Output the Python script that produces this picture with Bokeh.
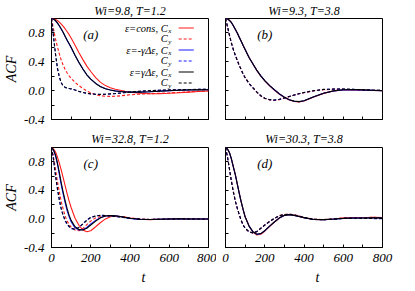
from bokeh.plotting import figure
from bokeh.layouts import column, row
from bokeh.models import Range1d, FixedTicker, Title, Label, Arrow, PrintfTickFormatter
from bokeh.embed import file_html
from bokeh.resources import INLINE

# ---------------- data ----------------
t = [0, 10, 20, 30, 40, 50, 60, 70, 80, 90, 100, 120, 140, 160, 180, 200,
     225, 250, 275, 300, 325, 350, 375, 400, 450, 500, 550, 600, 650, 700, 750, 800]

titles = ["Wi=9.8, T=1.2", "Wi=9.3, T=3.8", "Wi=32.8, T=1.2", "Wi=30.3, T=3.8"]
panel_tags = ["(a)", "(b)", "(c)", "(d)"]
x_ticks = [0, 200, 400, 600, 800]
x_minor = [100, 300, 500, 700]
y_ticks = [-0.4, 0.0, 0.4, 0.8]
y_minor = [-0.2, 0.2, 0.6]
legend_main = ["ε=cons, C", "C", "ε=-γΔε, C", "C", "ε=γΔε, C", "C"]
legend_sub = ["x", "y", "x", "y", "x", "y"]

# panel (a)
a_cons_cx = [1.0, 0.997, 0.988, 0.972, 0.95, 0.923, 0.89, 0.855, 0.817, 0.776, 0.73, 0.63, 0.525, 0.43, 0.34, 0.265,
             0.18, 0.115, 0.07, 0.04, 0.02, 0.005, -0.01, -0.022, -0.037, -0.043, -0.042, -0.037, -0.03, -0.021, -0.012, -0.005]
a_cons_cy = [1.0, 0.86, 0.72, 0.61, 0.51, 0.42, 0.35, 0.29, 0.245, 0.205, 0.17, 0.115, 0.07, 0.03, -0.005, -0.03,
             -0.055, -0.07, -0.078, -0.08, -0.078, -0.072, -0.065, -0.058, -0.048, -0.042, -0.037, -0.032, -0.025, -0.017, -0.009, -0.003]
a_neg_cx = [1.0, 0.991, 0.97, 0.937, 0.896, 0.851, 0.801, 0.748, 0.696, 0.646, 0.596, 0.487, 0.388, 0.299, 0.22, 0.16,
            0.101, 0.056, 0.026, 0.009, -0.003, -0.011, -0.016, -0.019, -0.02, -0.015, -0.007, 0.0, 0.006, 0.01, 0.012, 0.013]
a_neg_cy = [1.0, 0.75, 0.51, 0.31, 0.185, 0.107, 0.063, 0.044, 0.035, 0.029, 0.024, 0.009, -0.011, -0.026, -0.038, -0.046,
            -0.051, -0.053, -0.051, -0.046, -0.041, -0.034, -0.027, -0.019, -0.009, -0.001, 0.005, 0.009, 0.012, 0.015, 0.017, 0.019]
a_pos_cx = [1.0, 0.992, 0.972, 0.94, 0.90, 0.855, 0.805, 0.752, 0.70, 0.65, 0.60, 0.49, 0.39, 0.30, 0.22, 0.16,
            0.10, 0.055, 0.025, 0.008, -0.004, -0.012, -0.017, -0.02, -0.021, -0.016, -0.008, -0.001, 0.005, 0.009, 0.011, 0.012]
a_pos_cy = [1.0, 0.76, 0.52, 0.32, 0.19, 0.11, 0.065, 0.045, 0.036, 0.03, 0.025, 0.01, -0.01, -0.025, -0.037, -0.045,
            -0.05, -0.052, -0.05, -0.045, -0.04, -0.033, -0.026, -0.018, -0.008, 0.0, 0.006, 0.01, 0.013, 0.016, 0.018, 0.02]

# panel (b)
b_cons_cx = [1.0, 0.993, 0.975, 0.945, 0.90, 0.85, 0.80, 0.74, 0.685, 0.625, 0.57, 0.46, 0.368, 0.278, 0.202, 0.137,
             0.066, 0.005, -0.05, -0.095, -0.13, -0.15, -0.156, -0.143, -0.088, -0.038, -0.006, 0.008, 0.01, 0.006, 0.002, -0.002]
b_cons_cy = [1.0, 0.89, 0.77, 0.66, 0.57, 0.49, 0.42, 0.35, 0.29, 0.23, 0.18, 0.10, 0.038, -0.023, -0.074, -0.11,
             -0.13, -0.137, -0.126, -0.104, -0.083, -0.062, -0.044, -0.028, -0.004, 0.013, 0.018, 0.018, 0.014, 0.009, 0.004, 0.0]
b_neg_cx = [1.0, 0.993, 0.974, 0.944, 0.899, 0.849, 0.799, 0.739, 0.684, 0.624, 0.569, 0.459, 0.369, 0.279, 0.204, 0.139,
            0.069, 0.009, -0.046, -0.091, -0.126, -0.146, -0.153, -0.141, -0.086, -0.036, -0.004, 0.011, 0.014, 0.009, 0.004, 0.0]
b_neg_cy = [1.0, 0.889, 0.769, 0.659, 0.569, 0.489, 0.419, 0.349, 0.289, 0.229, 0.179, 0.099, 0.039, -0.021, -0.071, -0.106,
            -0.126, -0.131, -0.121, -0.101, -0.081, -0.061, -0.043, -0.026, -0.001, 0.016, 0.021, 0.021, 0.017, 0.011, 0.006, 0.002]
b_pos_cx = [1.0, 0.993, 0.975, 0.945, 0.90, 0.85, 0.80, 0.74, 0.685, 0.625, 0.57, 0.46, 0.37, 0.28, 0.205, 0.14,
            0.07, 0.01, -0.045, -0.09, -0.125, -0.145, -0.152, -0.14, -0.085, -0.035, -0.003, 0.012, 0.015, 0.01, 0.005, 0.0]
b_pos_cy = [1.0, 0.89, 0.77, 0.66, 0.57, 0.49, 0.42, 0.35, 0.29, 0.23, 0.18, 0.10, 0.04, -0.02, -0.07, -0.105,
            -0.125, -0.13, -0.12, -0.10, -0.08, -0.06, -0.042, -0.025, 0.0, 0.017, 0.022, 0.022, 0.018, 0.012, 0.007, 0.003]

# panel (c)
c_cons_cx = [1.0, 0.98, 0.94, 0.87, 0.78, 0.68, 0.57, 0.46, 0.35, 0.25, 0.16, 0.01, -0.09, -0.155, -0.18, -0.165,
             -0.11, -0.05, 0.0, 0.03, 0.04, 0.035, 0.025, 0.012, -0.005, -0.01, -0.005, 0.0, 0.002, 0.0, -0.002, 0.0]
c_cons_cy = [1.0, 0.87, 0.70, 0.53, 0.38, 0.24, 0.13, 0.04, -0.03, -0.08, -0.115, -0.155, -0.165, -0.135, -0.08, -0.03,
             0.015, 0.035, 0.042, 0.04, 0.037, 0.032, 0.024, 0.015, 0.0, -0.007, -0.006, -0.002, 0.001, 0.001, 0.0, 0.0]
c_neg_cx = [1.0, 0.965, 0.885, 0.77, 0.62, 0.47, 0.34, 0.22, 0.11, 0.03, -0.04, -0.125, -0.155, -0.15, -0.12, -0.07,
            -0.02, 0.02, 0.042, 0.048, 0.044, 0.033, 0.02, 0.008, -0.006, -0.008, -0.004, 0.0, 0.002, 0.0, -0.001, 0.0]
c_neg_cy = [1.0, 0.83, 0.61, 0.42, 0.26, 0.13, 0.04, -0.03, -0.08, -0.11, -0.135, -0.148, -0.118, -0.066, -0.016, 0.022,
            0.042, 0.05, 0.047, 0.041, 0.034, 0.026, 0.017, 0.009, -0.004, -0.008, -0.005, 0.0, 0.002, 0.001, -0.001, 0.0]
c_pos_cx = [1.0, 0.97, 0.90, 0.79, 0.65, 0.50, 0.37, 0.25, 0.14, 0.05, -0.02, -0.11, -0.15, -0.155, -0.13, -0.085,
            -0.03, 0.015, 0.04, 0.048, 0.045, 0.035, 0.022, 0.01, -0.005, -0.008, -0.004, 0.0, 0.002, 0.0, -0.001, 0.0]
c_pos_cy = [1.0, 0.84, 0.62, 0.43, 0.27, 0.14, 0.05, -0.02, -0.07, -0.105, -0.13, -0.145, -0.12, -0.07, -0.02, 0.02,
            0.04, 0.05, 0.048, 0.042, 0.035, 0.027, 0.018, 0.01, -0.003, -0.008, -0.005, 0.0, 0.002, 0.001, -0.001, 0.0]

# panel (d)
d_cons_cx = [1.0, 0.98, 0.93, 0.84, 0.73, 0.62, 0.49, 0.36, 0.24, 0.13, 0.03, -0.10, -0.185, -0.225, -0.215, -0.172,
             -0.105, -0.043, 0.013, 0.05, 0.062, 0.052, 0.036, 0.018, -0.008, -0.012, -0.002, 0.012, 0.02, 0.016, 0.024, 0.018]
d_cons_cy = [1.0, 0.87, 0.70, 0.53, 0.38, 0.25, 0.15, 0.06, -0.02, -0.085, -0.13, -0.182, -0.198, -0.178, -0.133, -0.087,
             -0.036, 0.01, 0.046, 0.063, 0.066, 0.058, 0.04, 0.02, -0.004, -0.008, 0.0, 0.014, 0.02, 0.015, 0.022, 0.017]
d_neg_cx = [1.0, 0.98, 0.929, 0.839, 0.729, 0.619, 0.489, 0.359, 0.239, 0.129, 0.029, -0.101, -0.181, -0.216, -0.206, -0.166,
            -0.101, -0.041, 0.014, 0.049, 0.059, 0.049, 0.034, 0.017, -0.009, -0.011, -0.003, 0.007, 0.011, 0.013, 0.014, 0.014]
d_neg_cy = [1.0, 0.869, 0.699, 0.529, 0.379, 0.249, 0.149, 0.059, -0.021, -0.086, -0.131, -0.181, -0.196, -0.176, -0.131, -0.086,
            -0.036, 0.009, 0.044, 0.061, 0.064, 0.057, 0.039, 0.019, -0.006, -0.011, -0.004, 0.007, 0.009, 0.007, 0.005, 0.004]
d_pos_cx = [1.0, 0.98, 0.93, 0.84, 0.73, 0.62, 0.49, 0.36, 0.24, 0.13, 0.03, -0.10, -0.18, -0.215, -0.205, -0.165,
            -0.10, -0.04, 0.015, 0.05, 0.06, 0.05, 0.035, 0.018, -0.008, -0.01, -0.002, 0.008, 0.012, 0.014, 0.015, 0.015]
d_pos_cy = [1.0, 0.87, 0.70, 0.53, 0.38, 0.25, 0.15, 0.06, -0.02, -0.085, -0.13, -0.18, -0.195, -0.175, -0.13, -0.085,
            -0.035, 0.01, 0.045, 0.062, 0.065, 0.058, 0.04, 0.02, -0.005, -0.01, -0.003, 0.008, 0.01, 0.008, 0.006, 0.005]

panels = [
    (a_cons_cx, a_cons_cy, a_neg_cx, a_neg_cy, a_pos_cx, a_pos_cy),
    (b_cons_cx, b_cons_cy, b_neg_cx, b_neg_cy, b_pos_cx, b_pos_cy),
    (c_cons_cx, c_cons_cy, c_neg_cx, c_neg_cy, c_pos_cx, c_pos_cy),
    (d_cons_cx, d_cons_cy, d_neg_cx, d_neg_cy, d_pos_cx, d_pos_cy),
]

# ---------------- style ----------------
SERIF = "Liberation Serif"
COLORS = ["#ff1a1a", "#ff1a1a", "#1a1aff", "#1a1aff", "#000000", "#000000"]
DASHES = ["solid", "3 2", "solid", "3 2", "solid", "3 2"]
FRAME_W = 157
LEG_ROWS = [0.868, 0.716, 0.563, 0.411, 0.258, 0.106]   # legend row positions (layout)
LEG_TEXT_X = 592
LEG_LINE_X = (648, 725)


def make_panel(i):
    top_row = i < 2
    left_col = i % 2 == 0
    p = figure(
        frame_width=FRAME_W,
        frame_height=101 if top_row else 100,
        x_range=Range1d(0, 800), y_range=Range1d(-0.4, 1.0),
        output_backend="svg", toolbar_location=None,
        min_border_left=46 if left_col else 9,
        min_border_right=8 if left_col else 13,
        min_border_top=14 if top_row else 16,
        min_border_bottom=9 if top_row else 35,
        background_fill_color="white", border_fill_color="white",
    )
    p.grid.visible = False
    p.outline_line_color = "black"
    p.outline_line_width = 1

    p.title.text = titles[i]
    p.title.align = "center"
    p.title.text_font = SERIF
    p.title.text_font_style = "italic"
    p.title.text_font_size = "12px"
    p.title.text_color = "black"
    p.title.standoff = 2 if top_row else 3

    for ax in (p.xaxis[0], p.yaxis[0]):
        ax.axis_line_color = "black"
        ax.major_tick_in = 3
        ax.major_tick_out = 0
        ax.minor_tick_in = 3
        ax.minor_tick_out = 0
        ax.major_tick_line_color = "black"
        ax.minor_tick_line_color = "black"
        ax.major_label_text_font = SERIF
        ax.major_label_text_font_style = "italic"
        ax.major_label_text_font_size = "13px"
        ax.major_label_text_color = "black"

    if top_row:
        # ticks without labels
        p.xaxis.ticker = FixedTicker(ticks=[], minor_ticks=sorted(x_ticks + x_minor))
    else:
        p.xaxis.ticker = FixedTicker(ticks=x_ticks, minor_ticks=x_minor)
        p.xaxis.major_label_standoff = 6
        p.add_layout(Title(text="t", align="left", offset=90, text_font=SERIF,
                           text_font_style="italic", text_font_size="14px",
                           text_color="black", standoff=6), "below")
    if left_col:
        p.yaxis.ticker = FixedTicker(ticks=y_ticks, minor_ticks=y_minor)
        p.yaxis.formatter = PrintfTickFormatter(format="%.1f")
        p.yaxis.major_label_standoff = 7
        p.yaxis.axis_label = "ACF"
        p.yaxis.axis_label_text_font = SERIF
        p.yaxis.axis_label_text_font_style = "italic"
        p.yaxis.axis_label_text_font_size = "14px"
        p.yaxis.axis_label_text_color = "black"
        p.yaxis.axis_label_standoff = 2
    else:
        p.yaxis.ticker = FixedTicker(ticks=[], minor_ticks=sorted(y_ticks + y_minor))

    for series, color, dash in zip(panels[i], COLORS, DASHES):
        p.line(t, series, line_color=color, line_width=1.1, line_dash=dash)

    p.add_layout(Label(x=200, y=0.78, text=panel_tags[i], text_align="center",
                       text_baseline="middle", text_font=SERIF, text_font_style="italic",
                       text_font_size="13px", text_color="black"))

    if i == 0:
        for yy, main, sub, color, dash in zip(LEG_ROWS, legend_main, legend_sub, COLORS, DASHES):
            p.add_layout(Label(x=LEG_TEXT_X, y=yy, text=main, text_align="right", text_baseline="middle",
                               text_font=SERIF, text_font_style="italic", text_font_size="10.5px",
                               text_color="black"))
            p.add_layout(Label(x=LEG_TEXT_X, y=yy, x_offset=0.5, y_offset=-3, text=sub, text_align="left",
                               text_baseline="middle", text_font=SERIF, text_font_style="italic",
                               text_font_size="7px", text_color="black"))
            p.add_layout(Arrow(end=None, x_start=LEG_LINE_X[0], y_start=yy, x_end=LEG_LINE_X[1], y_end=yy,
                               line_color=color, line_width=1.1, line_dash=dash))
    return p


figs = [make_panel(i) for i in range(4)]
layout = column(row(figs[0], figs[1]), row(figs[2], figs[3]))
open("out.html", "w").write(file_html(layout, INLINE))
